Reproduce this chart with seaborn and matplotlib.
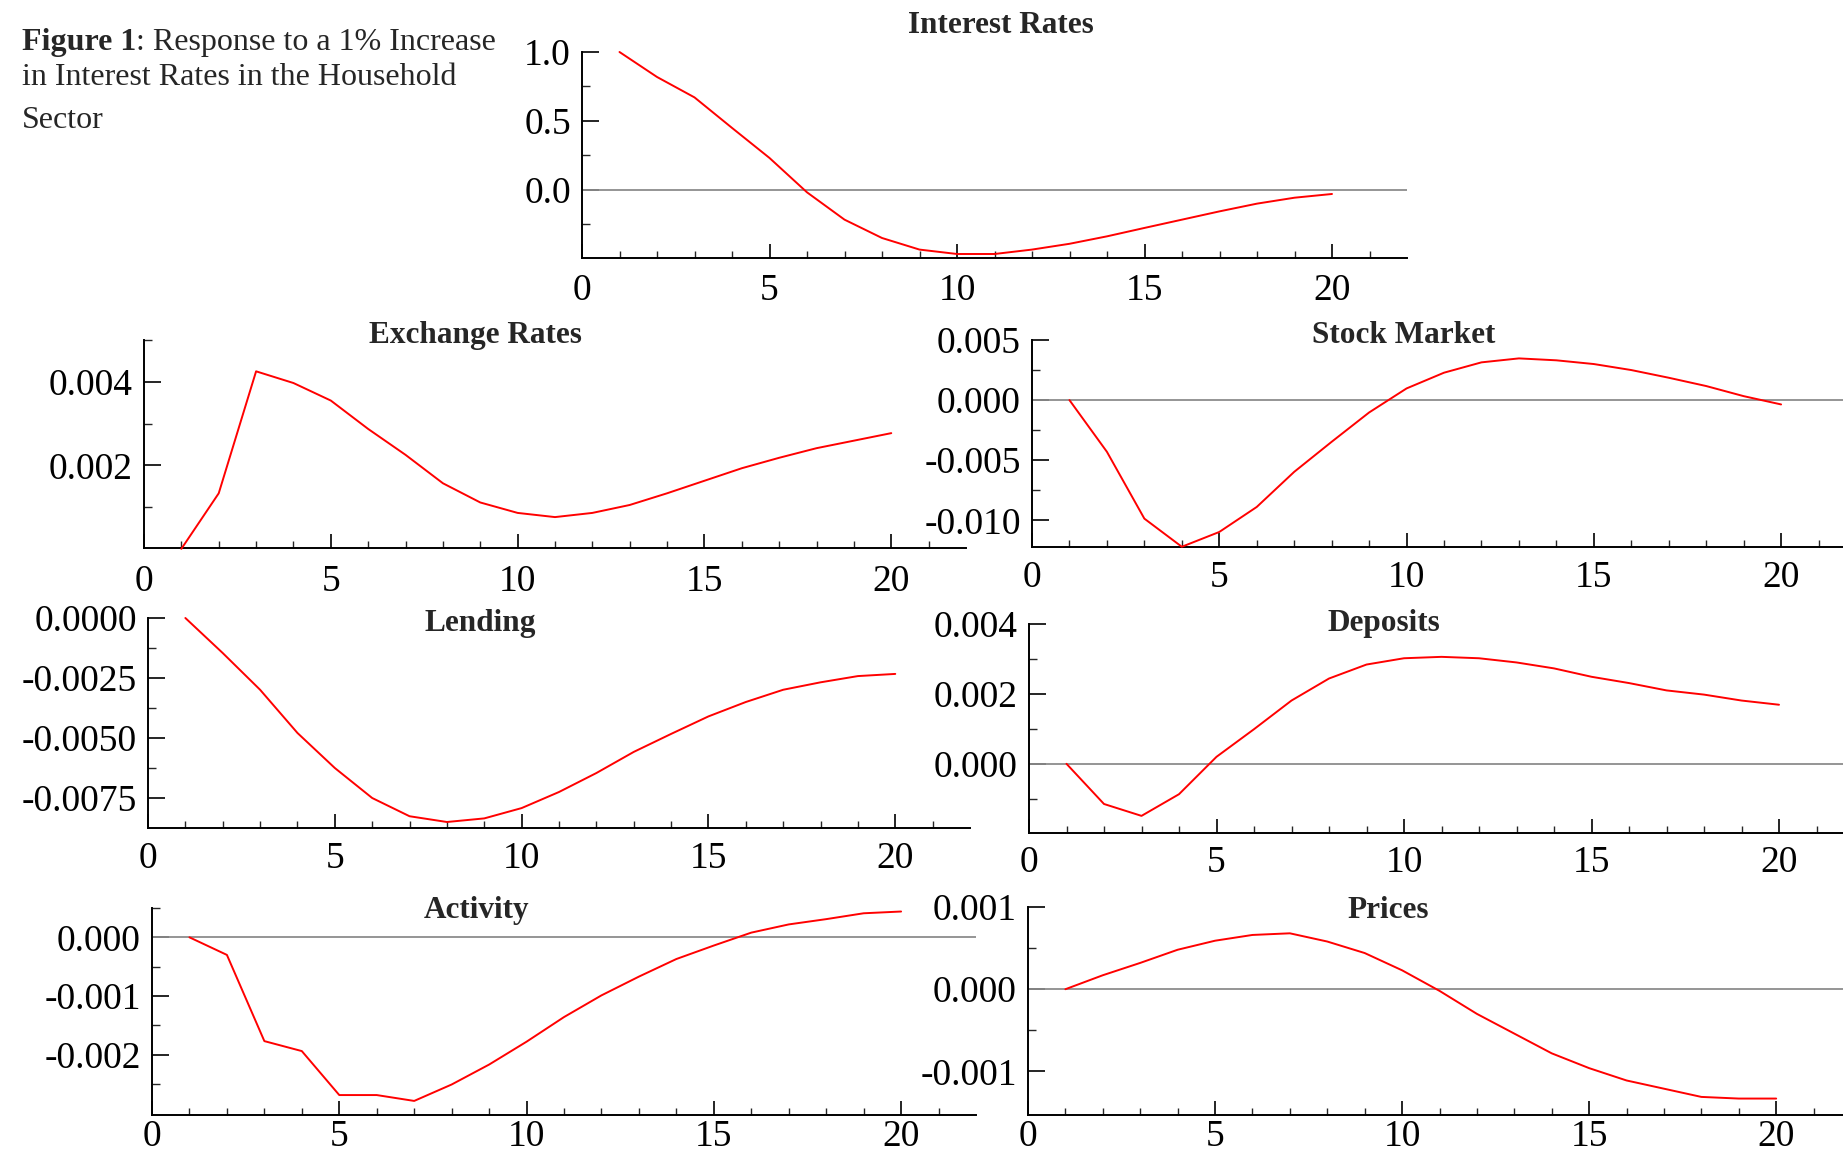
import matplotlib
matplotlib.use("Agg")
import matplotlib.pyplot as plt
import seaborn as sns
import numpy as np
import pandas as pd

# ---------------- data ----------------
periods = list(range(1, 21))

interest_rates = [1.0, 0.819, 0.671, 0.45, 0.232, -0.017, -0.215, -0.348, -0.432, -0.464,
                  -0.464, -0.432, -0.39, -0.336, -0.275, -0.215, -0.155, -0.099, -0.056, -0.029]
exchange_rates = [0.0, 0.00133, 0.00425, 0.00397, 0.00355, 0.00287, 0.00225, 0.00157, 0.00111, 0.00086,
                  0.00076, 0.00086, 0.00105, 0.00133, 0.00163, 0.00193, 0.00218, 0.00241, 0.00259, 0.00277]
stock_market = [0.0, -0.0043, -0.00986, -0.0122, -0.01097, -0.00889, -0.00597, -0.00347, -0.00103, 0.00097,
                0.00228, 0.00314, 0.00347, 0.00331, 0.0030, 0.0025, 0.00186, 0.00117, 0.00033, -0.00036]
lending = [0.0, -0.00146, -0.00299, -0.00479, -0.00625, -0.0075, -0.00826, -0.0085, -0.00835, -0.00792,
           -0.00725, -0.00646, -0.00558, -0.00483, -0.0041, -0.0035, -0.00299, -0.00268, -0.00242, -0.00233]
deposits = [0.0, -0.00115, -0.00149, -0.00087, 0.0002, 0.00099, 0.00181, 0.00244, 0.00284, 0.00302,
            0.00306, 0.00302, 0.0029, 0.00273, 0.00249, 0.00231, 0.0021, 0.00198, 0.00181, 0.00169]
activity = [0.0, -0.0003, -0.00177, -0.00194, -0.00269, -0.00269, -0.00279, -0.00251, -0.00217, -0.00178,
            -0.00136, -0.00099, -0.00067, -0.00037, -0.00014, 0.00008, 0.00022, 0.00031, 0.00041, 0.00044]
prices = [0.0, 0.00017, 0.00032, 0.00048, 0.00059, 0.00066, 0.00068, 0.00058, 0.00044, 0.00023,
          -0.00002, -0.0003, -0.00054, -0.00078, -0.00096, -0.00111, -0.00121, -0.00131, -0.00133, -0.00133]

titles = ["Interest Rates", "Exchange Rates", "Stock Market", "Lending", "Deposits", "Activity", "Prices"]
series = [interest_rates, exchange_rates, stock_market, lending, deposits, activity, prices]

x_major = [0, 5, 10, 15, 20]
x_minor = [i for i in range(1, 22) if i % 5 != 0]

y_major = [
    [0.0, 0.5, 1.0],
    [0.002, 0.004],
    [-0.010, -0.005, 0.0, 0.005],
    [-0.0075, -0.005, -0.0025, 0.0],
    [0.0, 0.002, 0.004],
    [-0.002, -0.001, 0.0],
    [-0.001, 0.0, 0.001],
]
y_labels = [
    ["0.0", "0.5", "1.0"],
    ["0.002", "0.004"],
    ["-0.010", "-0.005", "0.000", "0.005"],
    ["-0.0075", "-0.0050", "-0.0025", "0.0000"],
    ["0.000", "0.002", "0.004"],
    ["-0.002", "-0.001", "0.000"],
    ["-0.001", "0.000", "0.001"],
]
y_minor = [
    [-0.25, 0.25, 0.75],
    [0.001, 0.003, 0.005],
    [-0.0075, -0.0025, 0.0025],
    [-0.00625, -0.00375, -0.00125],
    [-0.001, 0.001, 0.003],
    [-0.0025, -0.0015, -0.0005, 0.0005],
    [-0.0005, 0.0005],
]
y_limits = [
    (-0.493, 1.0),
    (0.00002, 0.005),
    (-0.01222, 0.005),
    (-0.00875, 0.0),
    (-0.00198, 0.004),
    (-0.00303, 0.0005),
    (-0.00153, 0.001),
]
zero_line = [True, False, True, False, True, True, True]

# ---------------- layout (pixels in a 1843x1159 canvas) ----------------
W, H = 1843, 1159
boxes = [  # left, right, top, bottom
    (582, 1407, 52, 258),
    (144, 966, 340, 548),
    (1032, 1856, 340, 547),
    (148, 970, 618, 828),
    (1029, 1854, 624, 833),
    (152, 976, 908, 1115),
    (1028, 1851, 907, 1115),
]
x_pads = [11, 12, 10, 10, 9, 3.5, 3.5]
title_pos = [  # center x, baseline y
    (1001, 33),
    (475, 343),
    (1404, 343),
    (480, 631),
    (1384, 631),
    (477, 918),
    (1388, 918),
]

sns.set_style("ticks")
plt.rcParams["font.family"] = ["Liberation Serif", "DejaVu Serif"]
plt.rcParams["axes.unicode_minus"] = False

TICK_SIZE = 27
TITLE_SIZE = 22.5

fig = plt.figure(figsize=(W / 100, H / 100), dpi=100)

for i in range(7):
    l, r, t, b = boxes[i]
    ax = fig.add_axes([l / W, 1 - b / H, (r - l) / W, (b - t) / H])
    ax.set_facecolor("none")
    df = pd.DataFrame({"period": periods, "value": series[i]})
    if zero_line[i]:
        ax.axhline(0, color="#8c8c8c", lw=1.3, zorder=1)
    sns.lineplot(data=df, x="period", y="value", ax=ax, color="#ff0000", lw=1.4,
                 clip_on=False, zorder=3)
    ax.set_xlim(0, 22)
    ax.set_ylim(*y_limits[i])
    ax.set_xticks(x_major)
    ax.set_xticklabels([str(v) for v in x_major])
    ax.set_xticks(x_minor, minor=True)
    ax.set_yticks(y_major[i])
    ax.set_yticklabels(y_labels[i])
    ax.set_yticks(y_minor[i], minor=True)
    ax.set_xlabel("")
    ax.set_ylabel("")
    for s in ["top", "right"]:
        ax.spines[s].set_visible(False)
    for s in ["left", "bottom"]:
        ax.spines[s].set_linewidth(1.4)
        ax.spines[s].set_color("black")
    ax.tick_params(axis="x", which="major", direction="in", length=10, width=1.2,
                   pad=x_pads[i], labelsize=TICK_SIZE, colors="black")
    ax.tick_params(axis="x", which="minor", direction="in", length=5, width=1.0)
    ax.tick_params(axis="y", which="major", direction="in", length=12, width=1.2,
                   pad=8, labelsize=TICK_SIZE, colors="black")
    ax.tick_params(axis="y", which="minor", direction="in", length=6, width=1.0)
    fig.text(title_pos[i][0] / W, 1 - title_pos[i][1] / H, titles[i],
             ha="center", va="baseline", fontsize=TITLE_SIZE, fontweight="bold")

# caption
cap_size = 23
x0 = 22 / W
t1 = fig.text(x0, 1 - 50 / H, "Figure 1", fontsize=cap_size, fontweight="bold",
              ha="left", va="baseline")
fig.canvas.draw()
bb = t1.get_window_extent(renderer=fig.canvas.get_renderer())
fig.text(bb.x1 / W, 1 - 50 / H, ": Response to a 1% Increase", fontsize=cap_size,
         ha="left", va="baseline")
fig.text(x0, 1 - 85 / H, "in Interest Rates in the Household", fontsize=cap_size,
         ha="left", va="baseline")
fig.text(x0, 1 - 128 / H, "Sector", fontsize=cap_size, ha="left", va="baseline")

fig.savefig("out.png", dpi=100)
